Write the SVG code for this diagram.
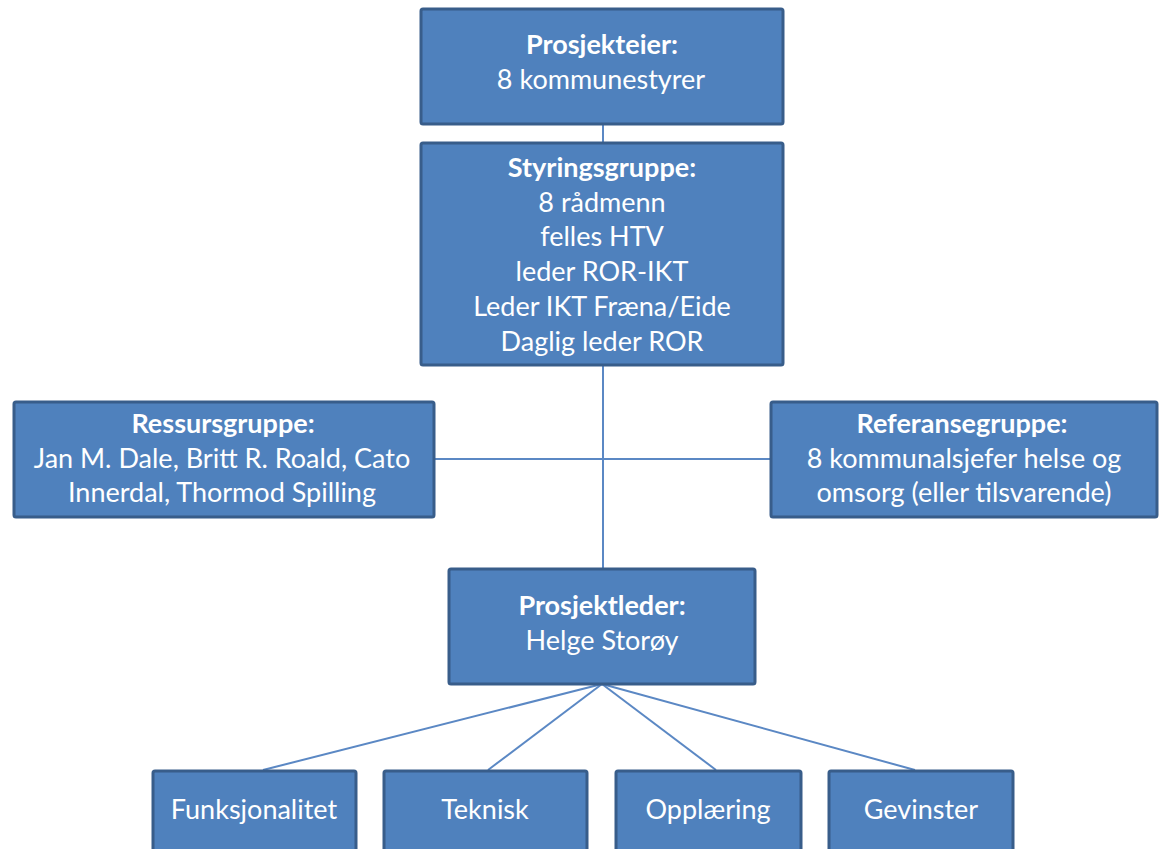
<svg xmlns="http://www.w3.org/2000/svg" width="1166" height="849" viewBox="0 0 1166 849">
  <style>
    .box { fill: #4f81bd; stroke: #385d8a; stroke-width: 3; }
    .t { font-family: Lato, "Open Sans", "Liberation Sans", sans-serif; font-size: 27px; fill: #ffffff; text-anchor: middle; }
    .b { font-weight: bold; }
    .link { stroke: #5b88c4; stroke-width: 2; fill: none; }
  </style>
  <rect width="1166" height="849" fill="#ffffff"/>

  <!-- connectors -->
  <g id="connectors">
    <line class="link" x1="603" y1="124" x2="603" y2="142"/>
    <line class="link" x1="603" y1="365" x2="603" y2="568"/>
    <line class="link" x1="434" y1="459" x2="771" y2="459"/>
    <line class="link" x1="602" y1="684" x2="263" y2="770"/>
    <line class="link" x1="602" y1="684" x2="488" y2="770"/>
    <line class="link" x1="602" y1="684" x2="716" y2="770"/>
    <line class="link" x1="602" y1="684" x2="915" y2="770"/>
  </g>

  <g id="prosjekteier">
    <rect class="box" x="421" y="9" width="362" height="115" rx="2"/>
    <text class="t b" x="602" y="54">Prosjekteier:</text>
    <text class="t" x="601" y="89">8 kommunestyrer</text>
  </g>

  <g id="styringsgruppe">
    <rect class="box" x="421" y="143" width="362" height="222" rx="2"/>
    <text class="t b" x="602" y="177">Styringsgruppe:</text>
    <text class="t" x="602" y="212">8 rådmenn</text>
    <text class="t" x="602" y="246">felles HTV</text>
    <text class="t" x="602" y="281">leder ROR-IKT</text>
    <text class="t" x="602" y="316">Leder IKT Fræna/Eide</text>
    <text class="t" x="602" y="351">Daglig leder ROR</text>
  </g>

  <g id="ressursgruppe">
    <rect class="box" x="14" y="402" width="420" height="115" rx="2"/>
    <text class="t b" x="223" y="433">Ressursgruppe:</text>
    <text class="t" x="222" y="468">Jan M. Dale, Britt R. Roald, Cato</text>
    <text class="t" x="222" y="502">Innerdal, Thormod Spilling</text>
  </g>

  <g id="referansegruppe">
    <rect class="box" x="771" y="402" width="386" height="115" rx="2"/>
    <text class="t b" x="962" y="433">Referansegruppe:</text>
    <text class="t" x="964" y="468">8 kommunalsjefer helse og</text>
    <text class="t" x="964" y="502">omsorg (eller tilsvarende)</text>
  </g>

  <g id="prosjektleder">
    <rect class="box" x="449" y="569" width="306" height="115" rx="2"/>
    <text class="t b" x="602" y="615">Prosjektleder:</text>
    <text class="t" x="602" y="650">Helge Storøy</text>
  </g>

  <g id="funksjonalitet">
    <rect class="box" x="153" y="771" width="203" height="90" rx="2"/>
    <text class="t" x="254" y="819">Funksjonalitet</text>
  </g>

  <g id="teknisk">
    <rect class="box" x="384" y="771" width="203" height="90" rx="2"/>
    <text class="t" x="485" y="819">Teknisk</text>
  </g>

  <g id="opplaering">
    <rect class="box" x="616" y="771" width="185" height="90" rx="2"/>
    <text class="t" x="708" y="819">Opplæring</text>
  </g>

  <g id="gevinster">
    <rect class="box" x="829" y="771" width="184" height="90" rx="2"/>
    <text class="t" x="921" y="819">Gevinster</text>
  </g>
</svg>
